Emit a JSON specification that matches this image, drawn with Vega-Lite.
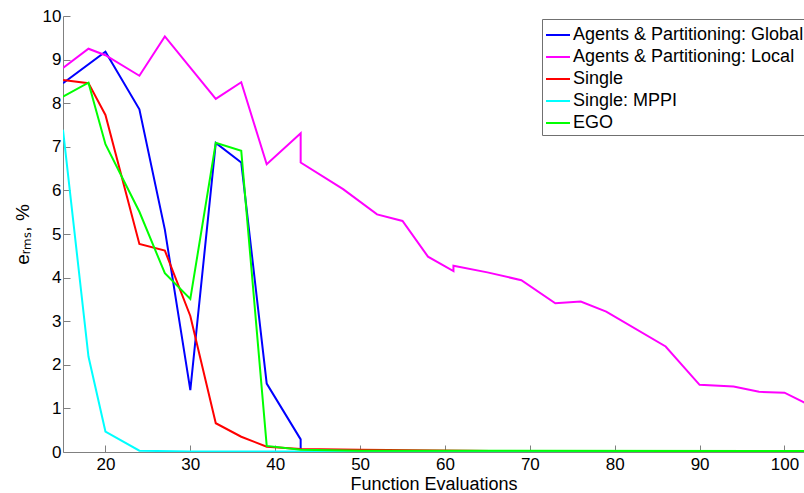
{
  "$schema": "https://vega.github.io/schema/vega-lite/v6.json",
  "width": 741,
  "height": 436,
  "autosize": {"type": "none"},
  "padding": {"left": 63, "top": 16, "right": 0, "bottom": 41},
  "background": "white",
  "config": {
    "view": {"stroke": null},
    "font": "Liberation Sans"
  },
  "data": {
    "values": [
      {"s": "Agents & Partitioning: Global", "i": 1, "x": 15, "y": 8.46},
      {"s": "Agents & Partitioning: Global", "i": 2, "x": 20, "y": 9.18},
      {"s": "Agents & Partitioning: Global", "i": 3, "x": 24, "y": 7.86},
      {"s": "Agents & Partitioning: Global", "i": 4, "x": 27, "y": 5.1},
      {"s": "Agents & Partitioning: Global", "i": 5, "x": 30, "y": 1.42},
      {"s": "Agents & Partitioning: Global", "i": 6, "x": 33, "y": 7.09},
      {"s": "Agents & Partitioning: Global", "i": 7, "x": 36, "y": 6.64},
      {"s": "Agents & Partitioning: Global", "i": 8, "x": 39, "y": 1.57},
      {"s": "Agents & Partitioning: Global", "i": 9, "x": 43, "y": 0.29},
      {"s": "Agents & Partitioning: Global", "i": 10, "x": 43, "y": 0.05},
      {"s": "Agents & Partitioning: Local", "i": 1, "x": 15, "y": 8.81},
      {"s": "Agents & Partitioning: Local", "i": 2, "x": 18, "y": 9.25},
      {"s": "Agents & Partitioning: Local", "i": 3, "x": 20, "y": 9.1},
      {"s": "Agents & Partitioning: Local", "i": 4, "x": 24, "y": 8.63},
      {"s": "Agents & Partitioning: Local", "i": 5, "x": 27, "y": 9.53},
      {"s": "Agents & Partitioning: Local", "i": 6, "x": 33, "y": 8.1},
      {"s": "Agents & Partitioning: Local", "i": 7, "x": 36, "y": 8.48},
      {"s": "Agents & Partitioning: Local", "i": 8, "x": 39, "y": 6.6},
      {"s": "Agents & Partitioning: Local", "i": 9, "x": 43, "y": 7.31},
      {"s": "Agents & Partitioning: Local", "i": 10, "x": 43, "y": 6.64},
      {"s": "Agents & Partitioning: Local", "i": 11, "x": 48, "y": 6.03},
      {"s": "Agents & Partitioning: Local", "i": 12, "x": 52, "y": 5.45},
      {"s": "Agents & Partitioning: Local", "i": 13, "x": 55, "y": 5.3},
      {"s": "Agents & Partitioning: Local", "i": 14, "x": 58, "y": 4.48},
      {"s": "Agents & Partitioning: Local", "i": 15, "x": 61, "y": 4.15},
      {"s": "Agents & Partitioning: Local", "i": 16, "x": 61, "y": 4.27},
      {"s": "Agents & Partitioning: Local", "i": 17, "x": 65, "y": 4.12},
      {"s": "Agents & Partitioning: Local", "i": 18, "x": 69, "y": 3.94},
      {"s": "Agents & Partitioning: Local", "i": 19, "x": 73, "y": 3.41},
      {"s": "Agents & Partitioning: Local", "i": 20, "x": 76, "y": 3.45},
      {"s": "Agents & Partitioning: Local", "i": 21, "x": 79, "y": 3.22},
      {"s": "Agents & Partitioning: Local", "i": 22, "x": 86, "y": 2.42},
      {"s": "Agents & Partitioning: Local", "i": 23, "x": 90, "y": 1.54},
      {"s": "Agents & Partitioning: Local", "i": 24, "x": 94, "y": 1.5},
      {"s": "Agents & Partitioning: Local", "i": 25, "x": 97, "y": 1.38},
      {"s": "Agents & Partitioning: Local", "i": 26, "x": 100, "y": 1.36},
      {"s": "Agents & Partitioning: Local", "i": 27, "x": 103, "y": 1.07},
      {"s": "Single", "i": 1, "x": 15, "y": 8.53},
      {"s": "Single", "i": 2, "x": 18, "y": 8.46},
      {"s": "Single", "i": 3, "x": 20, "y": 7.73},
      {"s": "Single", "i": 4, "x": 24, "y": 4.77},
      {"s": "Single", "i": 5, "x": 27, "y": 4.62},
      {"s": "Single", "i": 6, "x": 30, "y": 3.12},
      {"s": "Single", "i": 7, "x": 33, "y": 0.66},
      {"s": "Single", "i": 8, "x": 36, "y": 0.35},
      {"s": "Single", "i": 9, "x": 39, "y": 0.12},
      {"s": "Single", "i": 10, "x": 43, "y": 0.07},
      {"s": "Single", "i": 11, "x": 50, "y": 0.05},
      {"s": "Single", "i": 12, "x": 63, "y": 0.03},
      {"s": "Single", "i": 13, "x": 70, "y": 0.01},
      {"s": "Single", "i": 14, "x": 103, "y": 0.01},
      {"s": "Single: MPPI", "i": 1, "x": 15, "y": 7.39},
      {"s": "Single: MPPI", "i": 2, "x": 18, "y": 2.19},
      {"s": "Single: MPPI", "i": 3, "x": 20, "y": 0.47},
      {"s": "Single: MPPI", "i": 4, "x": 24, "y": 0.03},
      {"s": "Single: MPPI", "i": 5, "x": 30, "y": 0.01},
      {"s": "Single: MPPI", "i": 6, "x": 103, "y": 0.01},
      {"s": "EGO", "i": 1, "x": 15, "y": 8.15},
      {"s": "EGO", "i": 2, "x": 18, "y": 8.47},
      {"s": "EGO", "i": 3, "x": 20, "y": 7.06},
      {"s": "EGO", "i": 4, "x": 24, "y": 5.51},
      {"s": "EGO", "i": 5, "x": 27, "y": 4.1},
      {"s": "EGO", "i": 6, "x": 30, "y": 3.51},
      {"s": "EGO", "i": 7, "x": 33, "y": 7.09},
      {"s": "EGO", "i": 8, "x": 36, "y": 6.91},
      {"s": "EGO", "i": 9, "x": 39, "y": 0.14},
      {"s": "EGO", "i": 10, "x": 43, "y": 0.05},
      {"s": "EGO", "i": 11, "x": 50, "y": 0.03},
      {"s": "EGO", "i": 12, "x": 103, "y": 0.02}
    ]
  },
  "mark": {"type": "line", "strokeWidth": 2, "clip": true},
  "encoding": {
    "x": {
      "field": "x", "type": "quantitative",
      "scale": {"domain": [15, 102.3], "nice": false, "zero": false},
      "axis": {
        "title": "Function Evaluations",
        "values": [20, 30, 40, 50, 60, 70, 80, 90, 100],
        "grid": false,
        "domainColor": "#808080", "tickColor": "#808080",
        "tickSize": -7, "labelPadding": 11,
        "labelFontSize": 17, "labelColor": "black", "labelFont": "Liberation Sans",
        "titleFontSize": 18, "titleFontWeight": "normal", "titleColor": "black", "titleFont": "Liberation Sans",
        "titlePadding": 3
      }
    },
    "y": {
      "field": "y", "type": "quantitative",
      "scale": {"domain": [0, 10], "nice": false},
      "axis": {
        "title": "eᵣₘₛ, %",
        "values": [0, 1, 2, 3, 4, 5, 6, 7, 8, 9, 10],
        "grid": false,
        "domainColor": "#808080", "tickColor": "#808080",
        "tickSize": -7, "labelPadding": 9,
        "labelFontSize": 17, "labelColor": "black", "labelFont": "Liberation Sans",
        "titleFontSize": 19, "titleFontWeight": "normal", "titleColor": "black", "titleFont": "Liberation Sans",
        "titlePadding": 10
      }
    },
    "color": {
      "field": "s", "type": "nominal",
      "scale": {
        "domain": ["Agents & Partitioning: Global", "Agents & Partitioning: Local", "Single", "Single: MPPI", "EGO"],
        "range": ["#0000ff", "#ff00ff", "#ff0000", "#00ffff", "#00ff00"]
      },
      "legend": {
        "title": null,
        "orient": "none",
        "legendX": 479,
        "legendY": 3,
        "symbolType": "stroke",
        "symbolSize": 576,
        "symbolStrokeWidth": 2,
        "labelFontSize": 18,
        "labelFont": "Liberation Sans",
        "labelColor": "black",
        "labelOffset": 2,
        "rowPadding": -2,
        "padding": 3,
        "strokeColor": "#707070",
        "fillColor": "white",
        "labelLimit": 400
      }
    },
    "order": {"field": "i", "type": "quantitative"}
  }
}
